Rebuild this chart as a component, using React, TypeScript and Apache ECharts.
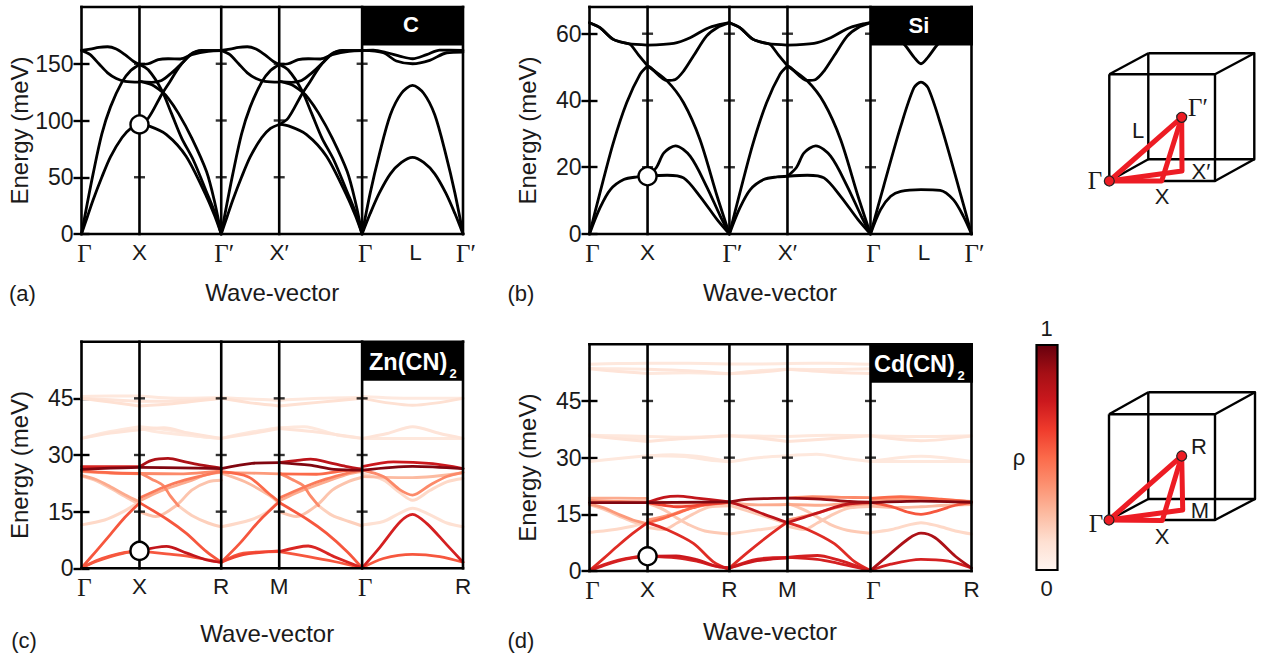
import React, { useEffect, useRef } from "react";
import * as echarts from "echarts";

// ---------- path positions (wave-vector coordinate of each high-symmetry point)
const kPath = [0, 1, 2.41, 3.41, 4.84, 6.58];
const kL = 5.71;
const kEnd = 6.58;

const labelsDiamond = ["Γ", "X", "Γ′", "X′", "Γ", "L", "Γ′"];
const labelsCubic = ["Γ", "X", "R", "M", "Γ", "R"];
const kLabelsDiamond = [0, 1, 2.41, 3.41, 4.84, kL, 6.58];
const kLabelsCubic = [0, 1, 2.41, 3.41, 4.84, 6.58];

const yTicksC = [0, 50, 100, 150];
const yTicksSi = [0, 20, 40, 60];
const yTicksCN = [0, 15, 30, 45];

// Each band: t0,E0, t1,E1, ... (t = fraction along the segment, E = energy in meV)
const C_GX = [
  [0, 0, 0.1, 15, 0.2, 30, 0.35, 50, 0.5, 68, 0.7, 85, 0.85, 93, 1, 96.5],
  [0, 0, 0.1, 27, 0.2, 53, 0.35, 88, 0.5, 112, 0.7, 134, 0.85, 144, 1, 149.4],
  [0, 161.8, 0.15, 162.8, 0.3, 164.5, 0.45, 165, 0.6, 163, 0.75, 158, 0.9, 152, 1, 149.4],
  [0, 161.8, 0.15, 158, 0.3, 150, 0.45, 142, 0.6, 137, 0.75, 134.5, 1, 133.8],
];
const C_XG = [
  [0, 96.5, 0.107, 102, 0.27, 122.7, 0.37, 134, 0.475, 146, 0.62, 158, 0.76, 161.8, 1, 161.5],
  [0, 96.5, 0.12, 95, 0.33, 87.6, 0.57, 68.5, 0.82, 33, 0.92, 16, 1, 0],
  [0, 134.4, 0.15, 131.5, 0.27, 125.6, 0.35, 119.8, 0.475, 106.5, 0.64, 84.5, 0.82, 55, 0.92, 28, 1, 0],
  [0, 149.4, 0.107, 144.7, 0.27, 127, 0.39, 106.5, 0.516, 84.5, 0.66, 65, 0.82, 37, 0.92, 19, 1, 0],
  [0, 149.4, 0.107, 150, 0.23, 153.6, 0.35, 154.4, 0.5, 154.2, 0.64, 158, 0.84, 161, 1, 161.5],
  [0, 134.4, 0.15, 133.6, 0.27, 135.3, 0.39, 141.8, 0.52, 150.6, 0.66, 159.5, 0.84, 161.5, 1, 161.5],
];
const C_GL = [
  [0, 0, 0.08, 18, 0.17, 36, 0.28, 53, 0.39, 63, 0.5, 67.5, 0.61, 63, 0.72, 53, 0.83, 36, 0.92, 18, 1, 0],
  [0, 0, 0.08, 36, 0.17, 70, 0.28, 105, 0.39, 124, 0.5, 131, 0.61, 124, 0.72, 105, 0.83, 70, 0.92, 36, 1, 0],
  [0, 161.8, 0.11, 162, 0.25, 159.7, 0.38, 156.5, 0.5, 154.4, 0.64, 158, 0.77, 162, 1, 161.8],
  [0, 161.8, 0.21, 159.7, 0.34, 152.4, 0.5, 150, 0.67, 153, 0.84, 159.7, 1, 160.3],
];

const Si_GX = [
  [0, 0, 0.18, 7.8, 0.36, 13.3, 0.59, 16.3, 0.82, 17.1, 1, 17.3],
  [0, 0, 0.18, 12.3, 0.41, 27.3, 0.64, 39.3, 0.87, 47.8, 1, 50.3],
  [0, 63.3, 0.18, 61.8, 0.41, 58.3, 0.67, 57, 1, 56.6],
  [0, 63.3, 0.18, 61.8, 0.41, 58.3, 0.67, 57, 0.72, 56.5, 0.85, 53.5, 1, 50.4],
];
const Si_XG = [
  [0, 17.3, 0.24, 17.6, 0.44, 16.8, 0.64, 11.3, 0.85, 4.3, 1, 0],
  [0, 17.3, 0.11, 20, 0.2, 24.3, 0.34, 26.4, 0.52, 23.3, 0.72, 14.3, 0.89, 5.3, 1, 0],
  [0, 50.3, 0.24, 45.8, 0.44, 39.3, 0.64, 28.3, 0.85, 11.3, 1, 0],
  [0, 50.3, 0.03, 50, 0.24, 46, 0.34, 46.3, 0.44, 48.8, 0.56, 53.3, 0.72, 59.3, 0.85, 61.8, 1, 63.3],
  [0, 56.6, 0.32, 57.1, 0.52, 58.8, 0.72, 61.5, 0.89, 62.8, 1, 63.3],
];
const Si_GL = [
  [0, 0, 0.1, 7.3, 0.2, 11.3, 0.3, 12.8, 0.5, 13.3, 0.69, 13.1, 0.82, 10.3, 0.92, 5.3, 1, 0],
  [0, 0, 0.13, 14.3, 0.3, 32.3, 0.43, 43.8, 0.5, 45.5, 0.57, 43.8, 0.7, 32.3, 0.87, 14.3, 1, 0],
  [0, 63.3, 0.16, 62, 0.34, 56.6, 0.43, 53, 0.5, 51, 0.57, 53, 0.66, 56.6, 0.84, 62, 1, 63.3],
];

// Coloured bands: rho, then t0,E0, t1,E1, ...
const Zn_GX = [
  [0.55, 0, 0.1, 0.25, 2, 0.5, 3.3, 0.75, 4.2, 1, 4.6],
  [0.55, 0, 0.1, 0.25, 1.8, 0.5, 3.1, 0.75, 4.1, 1, 4.6],
  [0.55, 0, 0.1, 0.25, 4.5, 0.5, 9, 0.75, 13.5, 1, 17.3],
  [0.15, 0, 11.5, 0.4, 12.8, 0.72, 15, 1, 17.6],
  [0.3, 0, 24.6, 0.25, 23.5, 0.5, 21.6, 0.75, 19.5, 1, 17.6],
  [0.2, 0, 24.4, 0.25, 23.2, 0.5, 21.2, 0.75, 19, 1, 16.9],
  [0.95, 0, 26.2, 0.5, 26.5, 1, 26.7],
  [0.7, 0, 26.9, 0.5, 26.9, 1, 26.9],
  [0.5, 0, 25.8, 0.5, 25.3, 1, 25.1],
  [0.3, 0, 25.6, 0.5, 25.2, 1, 25],
  [0.08, 0, 34.4, 0.5, 36.2, 1, 37.5],
  [0.1, 0, 34.4, 0.5, 35.8, 1, 36.7],
  [0.08, 0, 45.5, 0.5, 45.6, 1, 45.6],
  [0.12, 0, 45, 0.5, 44, 1, 43],
  [0.1, 0, 45, 0.5, 44.6, 1, 44.2],
];
const Zn_XR = [
  [0.78, 0, 4.6, 0.33, 5.8, 0.57, 4.1, 0.82, 2.2, 1, 1.6],
  [0.55, 0, 4.6, 0.33, 3.8, 0.62, 3.1, 1, 1.6],
  [0.55, 0, 17.4, 0.35, 12.8, 0.57, 9.3, 0.82, 4.4, 1, 1.6],
  [0.45, 0, 18.6, 0.31, 21.6, 0.56, 23.4, 0.84, 24.9, 1, 25.6],
  [0.3, 0, 17.8, 0.19, 19.8, 0.35, 21.2, 0.6, 23, 0.84, 24.9, 1, 25.4],
  [0.4, 0, 25.3, 0.15, 23.6, 0.29, 21.9, 0.37, 19.4, 0.475, 16.6],
  [0.18, 0.475, 16.6, 0.64, 14, 0.84, 12, 1, 11],
  [0.22, 0, 15, 0.2, 13.7, 0.455, 16.7, 0.64, 20.7, 0.84, 22.9, 1, 23.3],
  [0.95, 0, 26.7, 0.5, 26.6, 1, 26.4],
  [0.85, 0, 26.9, 0.15, 28.6, 0.35, 29.1, 0.56, 28.2, 0.76, 27.3, 1, 26.5],
  [0.4, 0, 25.1, 0.5, 25, 1, 25.8],
  [0.08, 0, 37.5, 0.4, 36.5, 0.7, 35, 1, 34.4],
  [0.1, 0, 36.7, 0.3, 37.2, 0.6, 35.8, 1, 34.4],
  [0.08, 0, 37, 0.25, 36, 0.6, 35.2, 1, 34.4],
  [0.12, 0, 43, 0.4, 43.6, 1, 45],
  [0.1, 0, 44.2, 0.4, 44.3, 1, 45],
  [0.08, 0, 45.6, 0.5, 45, 1, 45.2],
];
const Zn_RM = [
  [0.55, 0, 1.6, 0.38, 4, 1, 4.4],
  [0.6, 0, 1.6, 0.38, 3.6, 1, 4.6],
  [0.55, 0, 1.6, 0.32, 6.6, 0.67, 12.8, 1, 17.6],
  [0.15, 0, 11, 0.5, 12.8, 0.8, 15, 1, 18],
  [0.5, 0, 25.6, 0.47, 24.2, 0.82, 19.8, 1, 17.6],
  [0.25, 0, 25.2, 0.41, 22.9, 0.82, 19.4, 1, 17.2],
  [0.95, 0, 26.4, 0.53, 27.8, 1, 28],
  [0.35, 0, 25.4, 0.53, 25.2, 1, 25],
  [0.08, 0, 34.4, 0.5, 36, 1, 37.2],
  [0.1, 0, 34.4, 0.5, 35.6, 1, 37],
  [0.12, 0, 45, 0.5, 43.8, 1, 43],
  [0.08, 0, 45.2, 0.5, 44.8, 1, 44.5],
];
const Zn_MG = [
  [0.7, 0, 4.4, 0.35, 5.9, 0.66, 3.1, 1, 0.1],
  [0.55, 0, 4.4, 0.35, 3.1, 0.66, 1.8, 1, 0.1],
  [0.55, 0, 17.4, 0.35, 12.8, 0.57, 9.3, 0.82, 4.4, 1, 0.1],
  [0.45, 0, 18.6, 0.31, 21.6, 0.56, 23.6, 0.84, 25.3, 1, 26],
  [0.3, 0, 17.8, 0.19, 19.8, 0.35, 21.2, 0.6, 23.2, 0.84, 25, 1, 25.6],
  [0.4, 0, 25.2, 0.15, 23.6, 0.29, 21.9, 0.37, 19.4, 0.475, 16.6],
  [0.18, 0.475, 16.6, 0.64, 14, 0.84, 12.4, 1, 11.2],
  [0.22, 0, 15, 0.21, 13.7, 0.455, 16.7, 0.64, 20.7, 0.84, 23, 1, 24.1],
  [0.8, 0, 28, 0.2, 28.5, 0.38, 28.9, 0.6, 28, 0.8, 27, 1, 26.2],
  [0.95, 0, 28, 0.37, 27.3, 0.66, 26.2, 1, 26],
  [0.5, 0, 25, 0.45, 24.9, 0.7, 25.6, 1, 26.4],
  [0.08, 0, 37.2, 0.3, 37.5, 0.7, 35.3, 1, 34.4],
  [0.1, 0, 37, 0.4, 36.2, 1, 34.4],
  [0.12, 0, 43, 0.5, 44, 1, 45],
  [0.08, 0, 44.5, 0.5, 45, 1, 45.2],
];
const Zn_GR = [
  [0.55, 0, 0.1, 0.21, 2.6, 0.5, 3.7, 0.77, 3.1, 1, 1.6],
  [0.72, 0, 0.1, 0.18, 5.7, 0.38, 12.4, 0.5, 14.3, 0.64, 11.9, 0.84, 6.2, 1, 1.6],
  [0.4, 0, 26, 0.21, 24.3, 0.38, 20.7, 0.5, 19.4, 0.67, 22, 0.84, 24.3, 1, 25.4],
  [0.15, 0, 25, 0.21, 23.4, 0.38, 19.9, 0.5, 18, 0.67, 20.6, 0.84, 22.9, 1, 23.8],
  [0.12, 0, 11.5, 0.21, 12.4, 0.38, 14.7, 0.5, 15.9, 0.67, 14.2, 0.84, 12, 1, 11],
  [0.95, 0, 26, 0.5, 27, 1, 26.4],
  [0.75, 0, 26.9, 0.31, 28.2, 0.7, 27.7, 1, 26.4],
  [0.25, 0, 24.3, 0.5, 24, 1, 25.3],
  [0.08, 0, 34.4, 0.5, 34.4, 1, 34.4],
  [0.1, 0, 34.4, 0.25, 35.7, 0.5, 37.5, 0.77, 35.7, 1, 34.4],
  [0.07, 0, 45.5, 0.5, 45, 1, 45],
  [0.12, 0, 45, 0.5, 43.2, 1, 45],
];

const Cd_GX = [
  [0.7, 0, 0.1, 0.25, 1.7, 0.5, 2.9, 0.75, 3.6, 1, 3.9],
  [0.72, 0, 0.1, 0.25, 1.5, 0.5, 2.7, 0.75, 3.5, 1, 3.9],
  [0.68, 0, 0.1, 0.25, 3.4, 0.5, 6.8, 0.75, 10, 1, 12.8],
  [0.15, 0, 10.2, 0.4, 10.9, 0.72, 11.8, 1, 12.8],
  [0.35, 0, 17.7, 0.25, 16.7, 0.5, 15, 0.75, 13.5, 1, 12.5],
  [0.2, 0, 17.5, 0.25, 16.3, 0.5, 14.6, 0.75, 13, 1, 12.2],
  [0.95, 0, 18.1, 0.5, 18.1, 1, 18.1],
  [0.3, 0, 19.3, 0.5, 19.3, 1, 19.2],
  [0.4, 0, 18.7, 0.5, 18.4, 1, 18.3],
  [0.08, 0, 29, 0.5, 29.8, 1, 30.5],
  [0.08, 0, 35.8, 0.5, 35.8, 1, 35.6],
  [0.1, 0, 35.8, 0.5, 35, 1, 34.3],
  [0.08, 0, 36, 0.5, 35.5, 1, 35],
  [0.08, 0, 54.7, 0.5, 54.9, 1, 55],
  [0.08, 0, 53.6, 0.5, 53.5, 1, 53.4],
  [0.1, 0, 53.5, 0.5, 52.8, 1, 52.3],
];
const Cd_XR = [
  [0.75, 0, 3.9, 0.35, 4, 0.6, 3, 0.85, 1.2, 1, 0.8],
  [0.72, 0, 3.9, 0.35, 3.5, 0.6, 2.6, 0.85, 1.2, 1, 0.8],
  [0.68, 0, 12.8, 0.24, 10.9, 0.56, 7.3, 0.8, 2.5, 1, 0.3],
  [0.5, 0, 12.8, 0.2, 14, 0.45, 16, 0.7, 17.6, 1, 18.2],
  [0.35, 0, 13.5, 0.3, 15, 0.55, 16.8, 0.8, 17.7, 1, 18.2],
  [0.2, 0, 18, 0.2, 16.2, 0.36, 14, 0.5, 12.3, 0.7, 10.6, 1, 9.8],
  [0.2, 0, 11.5, 0.2, 11, 0.36, 12.7, 0.55, 15, 0.75, 16.9, 1, 17.3],
  [0.78, 0, 18.2, 0.2, 19.5, 0.37, 19.8, 0.6, 19.3, 1, 18.3],
  [0.95, 0, 18.1, 1, 18.3],
  [0.6, 0, 18.1, 0.2, 17.4, 0.38, 17, 0.7, 17.6, 1, 18.2],
  [0.3, 0, 18.4, 0.5, 18, 1, 18],
  [0.08, 0, 30.5, 0.3, 30.8, 0.6, 30.4, 1, 29],
  [0.08, 0, 30.5, 0.45, 30.3, 0.75, 29.4, 1, 28.9],
  [0.1, 0, 34.3, 0.4, 35, 1, 35.8],
  [0.08, 0, 35.6, 0.4, 35.4, 1, 35.8],
  [0.08, 0, 55, 0.5, 55, 1, 54.8],
  [0.1, 0, 53.4, 0.5, 53, 1, 52.2],
  [0.08, 0, 52.3, 0.5, 52.5, 1, 52.2],
];
const Cd_RM = [
  [0.72, 0, 0.8, 0.4, 2.9, 0.7, 3.5, 1, 3.6],
  [0.75, 0, 0.8, 0.4, 2.5, 0.7, 3.1, 1, 3.4],
  [0.68, 0, 0.8, 0.32, 5, 0.67, 9.3, 1, 13],
  [0.15, 0, 9.8, 0.5, 10.9, 0.8, 11.6, 1, 12.6],
  [0.8, 0, 18.3, 0.3, 16.8, 0.6, 15, 1, 12.8],
  [0.2, 0, 17.4, 0.5, 15, 1, 12.5],
  [0.9, 0, 18.3, 0.35, 19, 1, 19.3],
  [0.3, 0, 18, 0.5, 17.5, 1, 17.6],
  [0.08, 0, 28.9, 0.5, 30, 1, 30.5],
  [0.1, 0, 35.8, 0.5, 35.2, 1, 34.3],
  [0.08, 0, 35.8, 0.5, 35.7, 1, 35.6],
  [0.08, 0, 54.8, 0.5, 54.8, 1, 54.9],
  [0.1, 0, 52.2, 0.5, 52.6, 1, 53.4],
  [0.08, 0, 52.2, 0.5, 53, 1, 53.4],
];
const Cd_MG = [
  [0.72, 0, 3.6, 0.36, 4.1, 0.6, 3, 0.85, 1.2, 1, 0.1],
  [0.72, 0, 3.6, 0.36, 3.1, 0.6, 2.1, 0.85, 0.9, 1, 0.1],
  [0.68, 0, 12.8, 0.24, 11, 0.56, 7.3, 0.8, 2.6, 1, 0.1],
  [0.78, 0, 12.8, 0.2, 14.2, 0.45, 16, 0.7, 17.6, 1, 18.1],
  [0.35, 0, 13.5, 0.3, 15, 0.55, 16.6, 0.8, 17.5, 1, 17.8],
  [0.2, 0, 17.9, 0.22, 16, 0.38, 14, 0.52, 12.3, 0.72, 10.8, 1, 10],
  [0.2, 0, 11.8, 0.2, 11, 0.36, 12.7, 0.55, 15, 0.75, 16.7, 1, 17.1],
  [0.4, 0, 19.3, 0.3, 19.7, 0.65, 19.5, 1, 19.4],
  [0.9, 0, 19.3, 0.4, 19, 0.75, 18.4, 1, 18.2],
  [0.3, 0, 17.6, 0.4, 17.4, 0.8, 18, 1, 18.1],
  [0.08, 0, 30.5, 0.35, 30.9, 0.7, 29.8, 1, 29],
  [0.1, 0, 34.3, 0.5, 35, 1, 35.8],
  [0.08, 0, 35.6, 0.5, 35.9, 1, 35.8],
  [0.08, 0, 54.9, 0.5, 55, 1, 54.7],
  [0.08, 0, 53.4, 0.5, 53.3, 1, 53.5],
  [0.1, 0, 53.4, 0.5, 52.7, 1, 52.3],
];
const Cd_GR = [
  [0.72, 0, 0.1, 0.2, 1.8, 0.5, 3.1, 0.77, 2.6, 1, 0.8],
  [0.85, 0, 0.1, 0.18, 4.2, 0.38, 8.6, 0.5, 10, 0.64, 8.8, 0.84, 3.9, 1, 0.8],
  [0.55, 0, 18.1, 0.2, 17.1, 0.38, 15.5, 0.5, 15, 0.67, 16, 0.84, 17.4, 1, 18.1],
  [0.25, 0, 17.2, 0.3, 16.8, 0.5, 17, 0.75, 17.4, 1, 17.6],
  [0.15, 0, 10.2, 0.21, 11, 0.38, 12.2, 0.5, 12.8, 0.67, 11.9, 0.84, 10.6, 1, 9.8],
  [0.95, 0, 18.1, 0.5, 18.5, 1, 18.2],
  [0.5, 0, 19.2, 0.3, 19.7, 0.7, 19, 1, 18.3],
  [0.35, 0, 18.9, 0.5, 19, 1, 18.4],
  [0.08, 0, 29, 0.5, 30.4, 1, 29],
  [0.08, 0, 29, 0.5, 29, 1, 29],
  [0.08, 0, 35.8, 0.5, 35.6, 1, 35.8],
  [0.1, 0, 35.8, 0.5, 34.5, 1, 35.7],
];

const redStops = ["#fff5f0", "#fee0d2", "#fcbba1", "#fc9272", "#fb6a4a", "#ef3b2c", "#cb181d", "#a50f15", "#67000d"];

const SANS = '"Liberation Sans", Arial, sans-serif';
const SERIF = '"Liberation Serif", "Times New Roman", serif';

const pairs = (flat: number[]) => {
  const out: number[][] = [];
  for (let i = 0; i + 1 < flat.length; i += 2) out.push([flat[i], flat[i + 1]]);
  return out;
};

function bandSeries(gi: number, k0: number, k1: number, flat: number[], color: string, width: number, z: number) {
  return {
    type: "line",
    xAxisIndex: gi * 2,
    yAxisIndex: gi * 2,
    data: pairs(flat).map(([t, e]) => [k0 + t * (k1 - k0), e]),
    smooth: 0.3,
    showSymbol: false,
    silent: true,
    z,
    lineStyle: { color, width, cap: "round", join: "round" },
  };
}

function panelParts(gi: number, yMax: number, yTicks: number[], labels: string[], kLabels: number[]) {
  const series: any[] = [];
  const verticals = kPath.slice(1, -1);
  // frame
  const frame = [
    ...kPath.map((k) => [[k, 0], [k, yMax]]),
    [[0, 0], [kEnd, 0]],
    [[0, yMax], [kEnd, yMax]],
  ];
  frame.forEach((data) =>
    series.push({
      type: "line",
      xAxisIndex: gi * 2,
      yAxisIndex: gi * 2,
      data,
      showSymbol: false,
      silent: true,
      clip: false,
      z: 5,
      lineStyle: { color: "#000", width: 2.6, cap: "square" },
    })
  );
  // inner ticks on the vertical lines
  const tickData: number[][] = [];
  verticals.forEach((k) => yTicks.slice(1).forEach((y) => tickData.push([k, y])));
  series.push({
    type: "scatter",
    xAxisIndex: gi * 2,
    yAxisIndex: gi * 2,
    data: tickData,
    symbol: "rect",
    symbolSize: [11, 2.4],
    silent: true,
    z: 6,
    itemStyle: { color: "#000" },
  });
  const base = { min: 0, max: yMax, splitLine: { show: false } };
  const ticks = { show: true, inside: true, length: 8, customValues: yTicks, lineStyle: { color: "#000", width: 2.4 } };
  const yAxes = [
    {
      ...base,
      type: "value",
      gridIndex: gi,
      position: "left",
      axisLine: { show: false },
      axisTick: ticks,
      axisLabel: {
        customValues: yTicks,
        fontFamily: SANS,
        fontSize: 23,
        color: "#1a1a1a",
        margin: 8,
        padding: [0, 0, 6, 0],
      },
      name: "Energy (meV)",
      nameLocation: "middle",
      nameRotate: 90,
      nameGap: 50,
      nameTextStyle: { fontFamily: SANS, fontSize: 24, color: "#1a1a1a", padding: [0, 20, 0, 0] },
    },
    {
      ...base,
      type: "value",
      gridIndex: gi,
      position: "right",
      axisLine: { show: false },
      axisTick: ticks,
      axisLabel: { show: false },
    },
  ];
  const nameCfg = [
    { gap: 46, pad: [0, 0, 0, 0] },
    { gap: 46, pad: [0, 21, 0, 0] },
    { gap: 53, pad: [0, 10, 0, 0] },
    { gap: 48, pad: [0, 21, 0, 0] },
  ][gi];
  const xAxes = [
    {
      type: "value",
      gridIndex: gi,
      min: 0,
      max: kEnd,
      position: "bottom",
      splitLine: { show: false },
      axisLine: { show: false },
      axisTick: { show: false, customValues: kLabels },
      axisLabel: {
        customValues: kLabels,
        margin: 7,
        fontFamily: SANS,
        fontSize: 22.5,
        color: "#1a1a1a",
        formatter: (v: number) => {
          const i = kLabels.findIndex((k) => Math.abs(k - v) < 1e-6);
          const s = labels[i] ?? "";
          if (s.startsWith("Γ")) return `{g|${s}}`;
          if (s === "L") return `{l|${s}}`;
          return s;
        },
        rich: {
          g: { fontFamily: SERIF, fontSize: 25, color: "#1a1a1a", padding: [0, 0, 0, 6] },
          l: { fontFamily: SANS, fontSize: 22.5, color: "#1a1a1a", padding: [0, 0, 0, 6] },
        },
      },
      name: "Wave-vector",
      nameLocation: "middle",
      nameGap: nameCfg.gap,
      nameTextStyle: { fontFamily: SANS, fontSize: 24, color: "#1a1a1a", padding: nameCfg.pad },
    },
    {
      type: "value",
      gridIndex: gi,
      min: 0,
      max: kEnd,
      position: "top",
      show: false,
    },
  ];
  return { series, xAxes, yAxes };
}

function circleSeries(gi: number, e: number) {
  return {
    type: "scatter",
    xAxisIndex: gi * 2,
    yAxisIndex: gi * 2,
    data: [[1, e]],
    symbol: "circle",
    symbolSize: 18,
    silent: true,
    z: 10,
    itemStyle: { color: "#fff", borderColor: "#000", borderWidth: 2.4, opacity: 1 },
  };
}

const txt = (text: string, x: number, y: number, size = 22, family = SANS, fill = "#1a1a1a", align = "center", weight = "normal", z = 30) => ({
  type: "text",
  z,
  style: {
    text,
    x,
    y,
    fill,
    align,
    textAlign: align,
    verticalAlign: "middle",
    textVerticalAlign: "middle",
    font: `${weight} ${size}px ${family}`,
  },
});

const blackRect = (x: number, y: number, w: number, h: number) => ({
  type: "rect",
  z: 20,
  shape: { x, y, width: w, height: h },
  style: { fill: "#000" },
});

const lineEl = (points: number[][], color = "#000", width = 2.4) => ({
  type: "polyline",
  z: 25,
  shape: { points },
  style: { stroke: color, lineWidth: width, fill: "none", lineJoin: "round" },
});

function cube(fx0: number, fy0: number, fx1: number, fy1: number, bx0: number, by0: number, bx1: number, by1: number, p: number[], q: number[], r: number[]) {
  const red = "#ed1c24";
  return [
    lineEl([[fx0, fy0], [fx1, fy0], [fx1, fy1], [fx0, fy1], [fx0, fy0]]),
    lineEl([[bx0, by0], [bx1, by0], [bx1, by1], [bx0, by1], [bx0, by0]]),
    lineEl([[fx0, fy0], [bx0, by0]]),
    lineEl([[fx1, fy0], [bx1, by0]]),
    lineEl([[fx1, fy1], [bx1, by1]]),
    lineEl([[fx0, fy1], [bx0, by1]]),
    lineEl([[fx0, fy1], q, p, [fx0, fy1]], red, 5),
    lineEl([[fx0, fy1], r, p], red, 5),
    { type: "circle", z: 26, shape: { cx: fx0, cy: fy1, r: 5 }, style: { fill: red, stroke: "#222", lineWidth: 1.2 } },
    { type: "circle", z: 26, shape: { cx: p[0], cy: p[1], r: 5 }, style: { fill: red, stroke: "#222", lineWidth: 1.2 } },
  ];
}

export default function App() {
  const ref = useRef<HTMLDivElement>(null);
  useEffect(() => {
    const chart = echarts.init(ref.current!, null, { renderer: "svg" });
    const seg = [
      [kPath[0], kPath[1]],
      [kPath[1], kPath[2]],
      [kPath[2], kPath[3]],
      [kPath[3], kPath[4]],
      [kPath[4], kPath[5]],
    ];
    const pA = panelParts(0, 200, yTicksC, labelsDiamond, kLabelsDiamond);
    const pB = panelParts(1, 68, yTicksSi, labelsDiamond, kLabelsDiamond);
    const pC = panelParts(2, 60, yTicksCN, labelsCubic, kLabelsCubic);
    const pD = panelParts(3, 60, yTicksCN, labelsCubic, kLabelsCubic);

    const blackBands = (gi: number, gx: number[][], xg: number[][], gl: number[][]) => {
      const out: any[] = [];
      gx.forEach((b) => {
        out.push(bandSeries(gi, seg[0][0], seg[0][1], b, "#000", 2.8, 2));
        out.push(bandSeries(gi, seg[2][0], seg[2][1], b, "#000", 2.8, 2));
      });
      xg.forEach((b) => {
        out.push(bandSeries(gi, seg[1][0], seg[1][1], b, "#000", 2.8, 2));
        out.push(bandSeries(gi, seg[3][0], seg[3][1], b, "#000", 2.8, 2));
      });
      gl.forEach((b) => out.push(bandSeries(gi, seg[4][0], seg[4][1], b, "#000", 2.8, 2)));
      return out;
    };
    const colourBands = (gi: number, lists: number[][][]) => {
      const items: { rho: number; s: number; b: number[] }[] = [];
      lists.forEach((list, s) => list.forEach((row) => items.push({ rho: row[0], s, b: row.slice(1) })));
      items.sort((a, b) => a.rho - b.rho);
      return items.map((it) =>
        bandSeries(gi, seg[it.s][0], seg[it.s][1], it.b, echarts.color.lerp(it.rho, redStops) as string, it.rho < 0.25 ? 3 : 2.8, 2)
      );
    };

    const gradient = new echarts.graphic.LinearGradient(
      0, 1, 0, 0,
      redStops.map((c, i) => ({ offset: i / (redStops.length - 1), color: c }))
    );

    chart.setOption({
      animation: false,
      backgroundColor: "#fff",
      grid: [
        { left: 81.5, top: 7, width: 381.5, height: 227 },
        { left: 589.5, top: 7, width: 382, height: 227 },
        { left: 81.5, top: 341.7, width: 381.5, height: 226.6 },
        { left: 589.5, top: 344.3, width: 382, height: 226.7 },
      ],
      xAxis: [...pA.xAxes, ...pB.xAxes, ...pC.xAxes, ...pD.xAxes],
      yAxis: [...pA.yAxes, ...pB.yAxes, ...pC.yAxes, ...pD.yAxes],
      series: [
        ...blackBands(0, C_GX, C_XG, C_GL),
        ...blackBands(1, Si_GX, Si_XG, Si_GL),
        ...colourBands(2, [Zn_GX, Zn_XR, Zn_RM, Zn_MG, Zn_GR]),
        ...colourBands(3, [Cd_GX, Cd_XR, Cd_RM, Cd_MG, Cd_GR]),
        ...pA.series,
        ...pB.series,
        ...pC.series,
        ...pD.series,
        circleSeries(0, 96.5),
        circleSeries(1, 17.3),
        circleSeries(2, 4.6),
        circleSeries(3, 3.9),
      ],
      graphic: [
        blackRect(362, 6, 102, 39.6),
        blackRect(870, 6, 103, 39.6),
        blackRect(362, 341, 102, 39.7),
        blackRect(870, 343.5, 103, 39.2),
        txt("C", 411, 24, 22, SANS, "#fff", "center", "bold"),
        txt("Si", 919, 25, 22, SANS, "#fff", "center", "bold"),
        txt("Zn(CN)", 369, 361.5, 23.5, SANS, "#fff", "left", "bold"),
        txt("2", 453, 373, 13, SANS, "#fff", "center", "bold"),
        txt("Cd(CN)", 874, 363.5, 23.5, SANS, "#fff", "left", "bold"),
        txt("2", 961, 375, 13, SANS, "#fff", "center", "bold"),
        txt("(a)", 22.5, 293),
        txt("(b)", 521, 293),
        txt("(c)", 24, 640),
        txt("(d)", 521, 640),
        {
          type: "rect",
          z: 20,
          shape: { x: 1036.5, y: 345, width: 21, height: 225 },
          style: { fill: gradient, stroke: "#000", lineWidth: 2.2 },
        },
        txt("1", 1046.5, 328),
        txt("0", 1046.5, 588),
        txt("ρ", 1019, 457),
        ...cube(1109.3, 74.3, 1215, 181, 1148.3, 53.3, 1254.3, 159.3, [1181.7, 117.3], [1182, 171], [1161.7, 181]),
        txt("Γ", 1095, 180, 25, SERIF),
        txt("Γ′", 1198, 107, 25, SERIF),
        txt("L", 1138, 130),
        txt("X", 1162, 196),
        txt("X′", 1201, 171.5),
        ...cube(1109, 414.3, 1215, 520, 1148.3, 392.3, 1255, 499, [1181.7, 456], [1182.7, 510], [1162.3, 520.5]),
        txt("Γ", 1096, 523, 25, SERIF),
        txt("R", 1199, 446),
        txt("M", 1200, 510),
        txt("X", 1162, 536),
      ],
    });
    return () => chart.dispose();
  }, []);
  return <div ref={ref} style={{ position: "fixed", left: 0, top: 0, width: 1264, height: 656 }} />;
}
